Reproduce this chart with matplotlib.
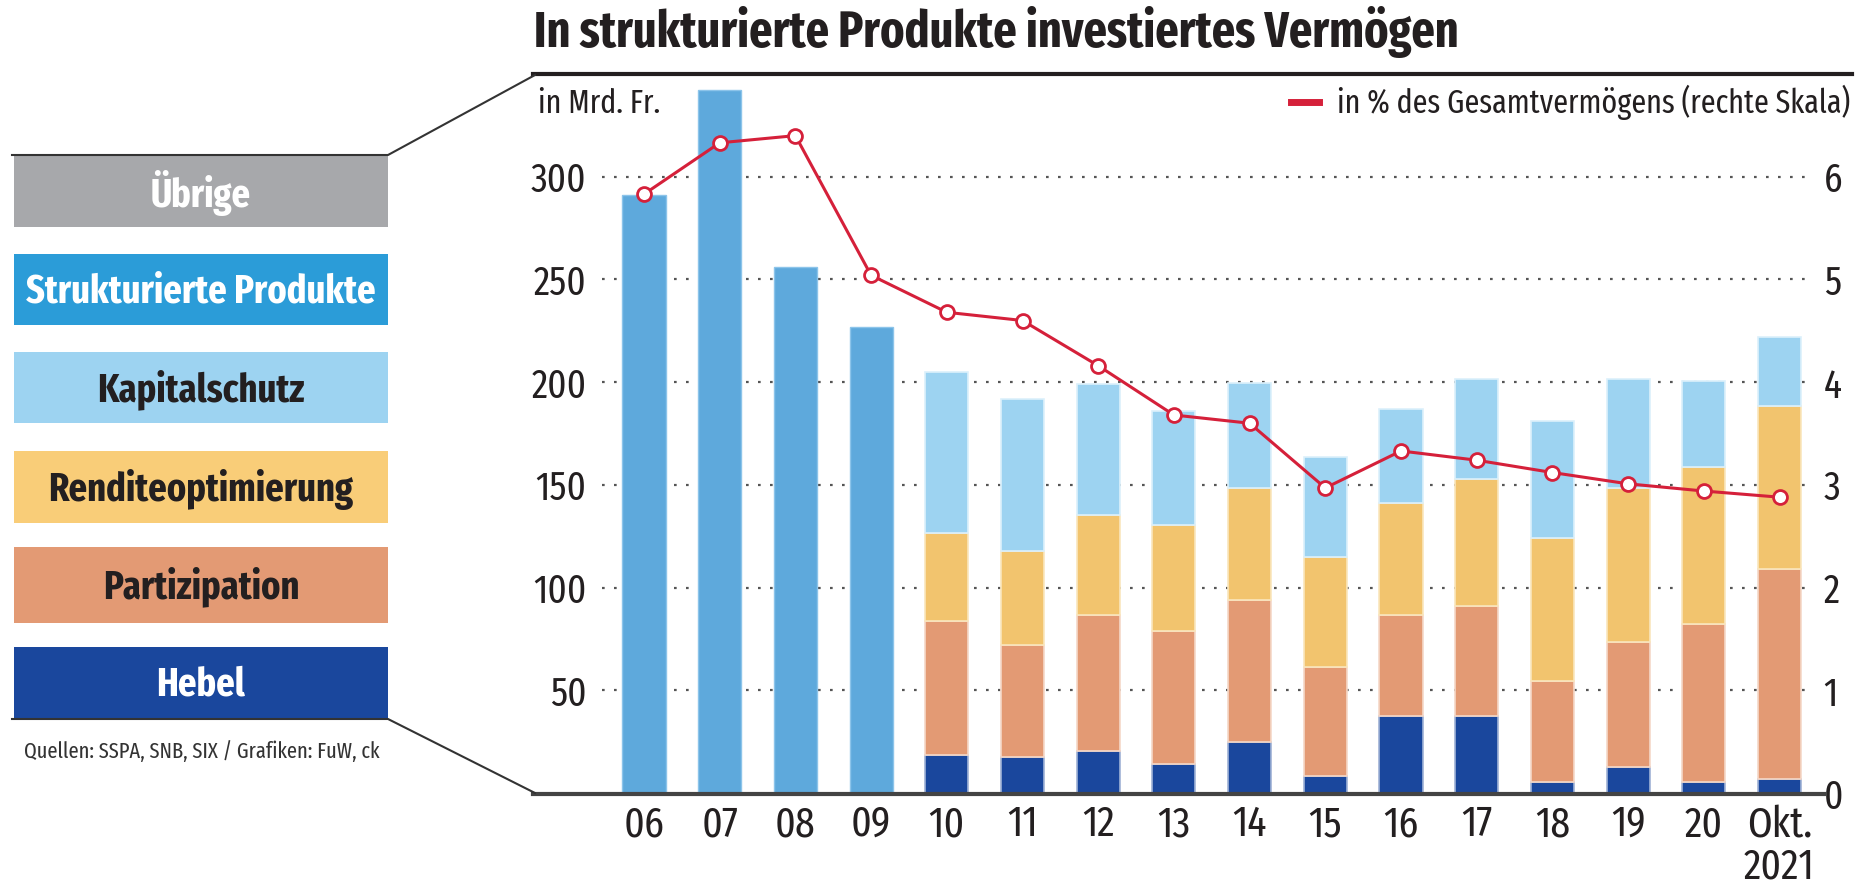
import matplotlib
matplotlib.use("Agg")
import matplotlib.pyplot as plt
from matplotlib.patches import Rectangle
from matplotlib.lines import Line2D
import numpy as np

# ---------------- data ----------------
years = ['06', '07', '08', '09', '10', '11', '12', '13', '14', '15',
         '16', '17', '18', '19', '20', 'Okt.\n2021']
# 2006-2009: only total structured products (Mrd. Fr.)
struct_total = [291, 342, 256, 227]
# 2010-Okt. 2021 breakdown (Mrd. Fr.)
hebel = [18.7, 17.3, 20.3, 14.3, 24.6, 8.5, 37.6, 37.6, 5.4, 12.7, 5.5, 6.8]
partizipation = [65.1, 54.6, 66.2, 64.7, 69.2, 53.0, 48.9, 53.3, 49.1, 60.7, 76.6, 102.2]
rendite = [42.7, 45.7, 49.0, 51.7, 54.7, 53.3, 54.8, 62.1, 69.6, 75.1, 76.4, 79.3]
kapitalschutz = [78.4, 74.0, 63.5, 55.3, 50.9, 48.6, 45.7, 48.6, 56.9, 53.1, 42.0, 33.7]
# share of total assets (%), right scale
pct = [5.83, 6.33, 6.40, 5.04, 4.68, 4.60, 4.16, 3.68, 3.60, 2.97,
       3.33, 3.24, 3.12, 3.01, 2.94, 2.88]

legend_labels = ['Übrige', 'Strukturierte Produkte', 'Kapitalschutz',
                 'Renditeoptimierung', 'Partizipation', 'Hebel']
title = 'In strukturierte Produkte investiertes Vermögen'
unit_label = 'in Mrd. Fr.'
line_label = 'in % des Gesamtvermögens (rechte Skala)'
source = 'Quellen: SSPA, SNB, SIX / Grafiken: FuW, ck'

# ---------------- style ----------------
C_GREY = '#a7a8ab'
C_SP = '#2b9cd8'
C_SPBAR = '#5ea9dc'
C_KAP = '#9dd3f1'
C_REN = '#f2c46e'
C_REN_BOX = '#f9cd78'
C_PAR = '#e39a74'
C_HEB = '#1a479d'
C_RED = '#d5203a'
C_TXT = '#231f20'

FONT = ['Fira Sans Extra Condensed', 'DejaVu Sans']
plt.rcParams['font.family'] = FONT

W, H = 1870, 886
fig = plt.figure(figsize=(W / 100, H / 100), dpi=100)


def fx(px):
    return px / W


def fy(py):
    return 1 - py / H


# main axes: x from 602 to 1807 px, y from 74 (top) to 793 (zero)
ax_l, ax_r, ax_t, ax_b = 602, 1807, 74, 793
ax = fig.add_axes([fx(ax_l), fy(ax_b), (ax_r - ax_l) / W, (ax_b - ax_t) / H])
ax2 = ax.twinx()

x = np.arange(len(years))
bw = 0.57
spacing = 75.7
x0 = (644 - ax_l) / spacing
ax.set_xlim(-x0, -x0 + (ax_r - ax_l) / spacing)
ax.set_ylim(0, 350)
ax2.set_ylim(0, 7)

# grid lines
for v in [50, 100, 150, 200, 250, 300]:
    ax.axhline(v, color='#555555', lw=1.6, ls=(0, (1.2, 4.2)), zorder=1)

# bars 2006-2009
ax.bar(x[:4], struct_total, width=bw, color=C_SPBAR, edgecolor='#8cc4ea',
       linewidth=1.0, zorder=2)
# stacked bars 2010-2021
xs = x[4:]
b1 = np.array(hebel)
b2 = b1 + np.array(partizipation)
b3 = b2 + np.array(rendite)
ek = dict(width=bw, linewidth=1.2, zorder=2)
ax.bar(xs, hebel, color=C_HEB, edgecolor='#9fb2d6', **ek)
ax.bar(xs, partizipation, bottom=b1, color=C_PAR, edgecolor='#f5d8c8', **ek)
ax.bar(xs, rendite, bottom=b2, color=C_REN, edgecolor='#fae6bd', **ek)
ax.bar(xs, kapitalschutz, bottom=b3, color=C_KAP, edgecolor='#dcf0fb', **ek)

# percentage line
ax2.plot(x, pct, color=C_RED, lw=2.2, marker='o', ms=10, mfc='white',
         mec=C_RED, mew=2.0, zorder=5)
ax2.set_zorder(ax.get_zorder() + 1)
ax2.patch.set_visible(False)

# ticks
ax.set_yticks([50, 100, 150, 200, 250, 300])
ax.set_yticklabels(['50', '100', '150', '200', '250', '300'])
ax.tick_params(axis='y', length=0, pad=11, labelsize=29, labelcolor=C_TXT)
ax.set_xticks(x)
ax.set_xticklabels(years, linespacing=1.05)
ax.tick_params(axis='x', length=0, pad=8, labelsize=31, labelcolor=C_TXT)
ax2.set_yticks(range(0, 7))
ax2.set_yticklabels([str(i) for i in range(0, 7)])
ax2.tick_params(axis='y', length=0, pad=12, labelsize=29, labelcolor=C_TXT)
for a in (ax, ax2):
    for s in a.spines.values():
        s.set_visible(False)

# baseline
fig.add_artist(Line2D([fx(533), fx(1825)], [fy(794), fy(794)],
                      color='#444444', lw=3, transform=fig.transFigure))

# title and rule
fig.text(fx(534), fy(47), title, fontsize=36, fontweight='bold', color=C_TXT,
         ha='left', va='baseline')
fig.add_artist(Line2D([fx(533), fx(1852)], [fy(74), fy(74)], color=C_TXT,
                      lw=3, transform=fig.transFigure))
# connector lines
fig.add_artist(Line2D([fx(12), fx(388), fx(535)], [fy(155), fy(155), fy(75)],
                      color='#333333', lw=1.5, transform=fig.transFigure))
fig.add_artist(Line2D([fx(12), fx(388), fx(535)], [fy(719), fy(719), fy(793)],
                      color='#333333', lw=1.5, transform=fig.transFigure))

# unit label
fig.text(fx(538), fy(113), unit_label, fontsize=23.5, color=C_TXT,
         ha='left', va='baseline')
# line legend
fig.add_artist(Line2D([fx(1291), fx(1319)], [fy(102), fy(102)], color=C_RED,
                      lw=5, transform=fig.transFigure))
fig.text(fx(1850), fy(113), line_label, fontsize=23.5, color=C_TXT,
         ha='right', va='baseline')

# legend boxes
boxes = [(155, 227, C_GREY, 'white'),
         (254, 325, C_SP, 'white'),
         (352, 423, C_KAP, C_TXT),
         (451, 523, C_REN_BOX, C_TXT),
         (547, 623, C_PAR, C_TXT),
         (647, 719, C_HEB, 'white')]
for (t, b, col, tcol), lab in zip(boxes, legend_labels):
    fig.add_artist(Rectangle((fx(14), fy(b)), fx(388) - fx(14), fy(t) - fy(b),
                             transform=fig.transFigure, facecolor=col,
                             edgecolor='none'))
    fig.text(fx(201), fy((t + b) / 2 + 2), lab, fontsize=28.5, fontweight='bold',
             color=tcol, ha='center', va='center')

fig.text(fx(202), fy(751), source, fontsize=16, color='#333333',
         ha='center', va='center')

fig.savefig('out.png', dpi=100)
